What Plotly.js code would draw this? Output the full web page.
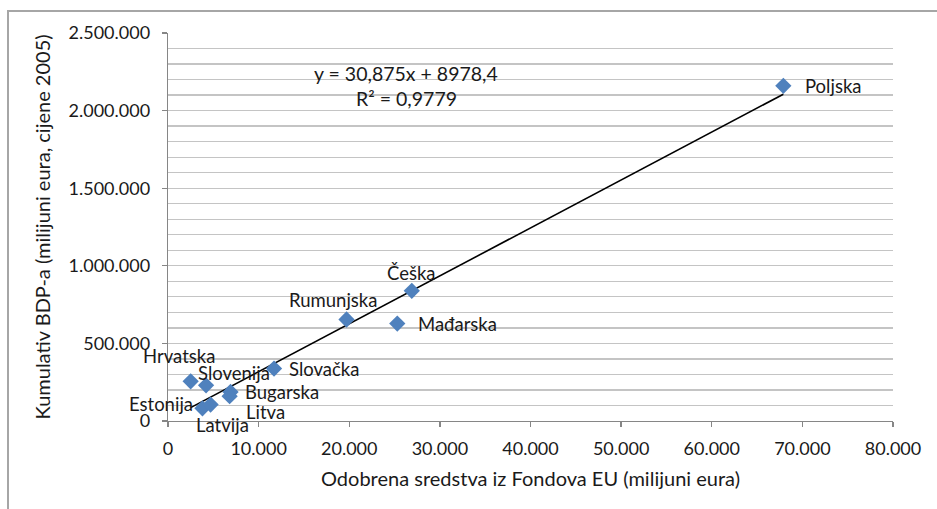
<!DOCTYPE html>
<html>
<head>
<meta charset="utf-8">
<script src="https://cdn.plot.ly/plotly-3.0.1.min.js"></script>
<style>
  html, body { margin: 0; padding: 0; background: #fff; }
  #wrap { position: relative; width: 937px; height: 509px; overflow: hidden; }
  #chart { width: 937px; height: 509px; }
  #frame { position: absolute; left: 7px; top: 10px; width: 960px; height: 540px;
           border-left: 2px solid #a6a6a6; border-top: 2px solid #a6a6a6; pointer-events: none; }
</style>
</head>
<body>
<div id="wrap">
  <div id="chart"></div>
  <div id="frame"></div>
</div>
<script>
// ---- data ----
const countries = ['Poljska', 'Češka', 'Mađarska', 'Rumunjska', 'Slovačka', 'Hrvatska',
                   'Slovenija', 'Bugarska', 'Litva', 'Estonija', 'Latvija'];
const funds = [67900, 26900, 25300, 19700, 11700, 2500, 4200, 6900, 6800, 3800, 4700];
const gdp = [2160000, 839000, 628000, 654000, 338000, 256000, 230000, 187000, 160000, 82000, 106000];
const trendSlope = 30.875;
const trendIntercept = 8978.4;
const equationText = 'y = 30,875x + 8978,4';
const r2Text = 'R² = 0,9779';
const xTitle = 'Odobrena sredstva iz Fondova EU (milijuni eura)';
const yTitle = 'Kumulativ BDP-a (milijuni eura, cijene 2005)';

// ---- label placement (style) ----
const labelStyle = {
  'Poljska':   {xanchor: 'left',   xshift: 20,  yshift: 0},
  'Češka':     {xanchor: 'center', xshift: 0,   yshift: 18},
  'Mađarska':  {xanchor: 'left',   xshift: 19,  yshift: 0},
  'Rumunjska': {xanchor: 'center', xshift: -14, yshift: 20},
  'Slovačka':  {xanchor: 'left',   xshift: 13,  yshift: 0},
  'Hrvatska':  {xanchor: 'center', xshift: -12, yshift: 25},
  'Slovenija': {xanchor: 'left',   xshift: -10, yshift: 12},
  'Bugarska':  {xanchor: 'left',   xshift: 12,  yshift: 0},
  'Litva':     {xanchor: 'left',   xshift: 14,  yshift: -16},
  'Estonija':  {xanchor: 'right',  xshift: -7,  yshift: 4},
  'Latvija':   {xanchor: 'center', xshift: 12,  yshift: -20}
};

const FONT = 'Lato, "Open Sans", sans-serif';
const TXT = '#1a1a1a';
const LABEL_SIZE = 18.5;
const TICK_SIZE = 18;
const TITLE_SIZE = 20;

const xMin = Math.min(...funds), xMax = Math.max(...funds);
const trendX = [xMin, xMax];
const trendY = trendX.map(x => trendSlope * x + trendIntercept);

const traces = [
  {
    x: trendX, y: trendY, type: 'scatter', mode: 'lines',
    line: {color: '#000000', width: 1.6}, hoverinfo: 'skip'
  },
  {
    x: funds, y: gdp, type: 'scatter', mode: 'markers', text: countries,
    marker: {symbol: 'diamond', size: 12.5, color: '#4f81bd', line: {width: 0}}
  }
];

const annotations = countries.map((c, i) => Object.assign({
  x: funds[i], y: gdp[i], xref: 'x', yref: 'y', text: c, showarrow: false,
  yanchor: 'middle', font: {family: FONT, size: LABEL_SIZE, color: TXT}
}, labelStyle[c]));

annotations.push({
  xref: 'paper', yref: 'paper', x: 0.3287, y: 0.895, text: equationText, showarrow: false,
  xanchor: 'center', yanchor: 'middle', font: {family: FONT, size: 19.5, color: TXT}
});
annotations.push({
  xref: 'paper', yref: 'paper', x: 0.3287, y: 0.832, text: r2Text, showarrow: false,
  xanchor: 'center', yanchor: 'middle', font: {family: FONT, size: 19.5, color: TXT}
});

const layout = {
  width: 937, height: 509,
  margin: {l: 167.5, r: 44, t: 33, b: 88},
  paper_bgcolor: 'rgba(0,0,0,0)', plot_bgcolor: '#ffffff',
  separators: ',.',
  showlegend: false,
  font: {family: FONT, size: TICK_SIZE, color: TXT},
  xaxis: {
    range: [0, 80000], tickmode: 'linear', tick0: 0, dtick: 10000, tickformat: ',d',
    showgrid: false, zeroline: false,
    showline: true, linecolor: '#868686', linewidth: 1.3,
    ticks: 'outside', ticklen: 5, tickcolor: '#868686', tickwidth: 1.3,
    ticklabelstandoff: 6,
    tickfont: {family: FONT, size: TICK_SIZE, color: TXT},
    title: {text: xTitle, font: {family: FONT, size: TITLE_SIZE, color: TXT}, standoff: 14}
  },
  yaxis: {
    range: [0, 2500000], tickmode: 'linear', tick0: 0, dtick: 500000, tickformat: ',d',
    showgrid: true, gridcolor: '#c4c4c4', gridwidth: 1.3,
    minor: {dtick: 100000, showgrid: true, gridcolor: '#c4c4c4', gridwidth: 1.3},
    zeroline: false,
    showline: true, linecolor: '#868686', linewidth: 1.3,
    ticks: 'outside', ticklen: 5, tickcolor: '#868686', tickwidth: 1.3,
    ticklabelstandoff: 8,
    tickfont: {family: FONT, size: TICK_SIZE, color: TXT},
    title: {text: yTitle, font: {family: FONT, size: TITLE_SIZE, color: TXT}, standoff: 12}
  },
  annotations: annotations
};

Plotly.newPlot('chart', traces, layout, {displayModeBar: false, staticPlot: true});
</script>
</body>
</html>
